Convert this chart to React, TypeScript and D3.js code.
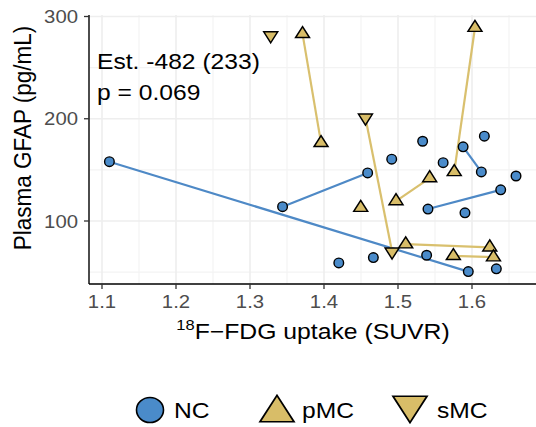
import React from "react";
import * as d3 from "d3";

// ---- data ----
const ncX = [1.11, 1.595, 1.344, 1.459, 1.588, 1.6126, 1.5405, 1.6388, 1.5333, 1.6167, 1.4915, 1.561, 1.6595, 1.5905, 1.5387, 1.6329, 1.4667, 1.42];
const ncY = [158, 50.5, 114, 147, 172.5, 148, 111.7, 130.5, 178, 183, 160.5, 157, 144, 108, 66.5, 53.2, 64.2, 59];
const ncSubject = ["n1", "n1", "n2", "n2", "n3", "n3", "n4", "n4", "n5", "n6", "n7", "n8", "n9", "n10", "n11", "n12", "n13", "n14"];

const pmcX = [1.371, 1.396, 1.604, 1.576, 1.5428, 1.4973, 1.5104, 1.624, 1.5748, 1.629, 1.4496];
const pmcY = [283, 176.4, 289, 148, 142, 119.5, 77.3, 74.3, 65.9, 64.6, 113];
const pmcSubject = ["p1", "p1", "p2", "p2", "p3", "p3", "p4", "p4", "p5", "p5", "p6"];

const smcX = [1.328, 1.456, 1.492];
const smcY = [281.5, 201, 70];
const smcSubject = ["m1", "m2", "m2"];

const xTicks = [1.1, 1.2, 1.3, 1.4, 1.5, 1.6];
const xMinor = [1.15, 1.25, 1.35, 1.45, 1.55, 1.65];
const yTicks = [100, 200, 300];
const yMinor = [50, 150, 250];

const groups = ["NC", "pMC", "sMC"];
const annotation = ["Est. -482 (233)", "p = 0.069"];

// ---- style ----
const BLUE = "#4A8BCA";
const BLUE_LINE = "#4E89C6";
const GOLD = "#D8BD68";
const GOLD_LINE = "#D9C06E";
const FONT = "'Liberation Sans', Arial, Helvetica, sans-serif";
const SX = 1.12;

const W = 536, H = 427;
const panel = { left: 89, right: 536, top: 15, bottom: 284 };

type Pt = { x: number; y: number; s: string; g: string };

function build(xs: number[], ys: number[], ss: string[], g: string): Pt[] {
  return xs.map((x, i) => ({ x, y: ys[i], s: ss[i], g }));
}

function segments(pts: Pt[]) {
  const by = d3.group(pts, (d) => d.s);
  return Array.from(by.values()).filter((a) => a.length > 1);
}

function SText(props: { x: number; y: number; sx?: number; anchor?: string; size: number; fill?: string; children: React.ReactNode }) {
  const { x, y, sx = SX, anchor = "start", size, fill = "#000", children } = props;
  return (
    <text transform={`translate(${x},${y}) scale(${sx},1)`} textAnchor={anchor} fontSize={size} fill={fill} fontFamily={FONT}>
      {children}
    </text>
  );
}

export default function App() {
  const x = d3.scaleLinear().domain([1.1, 1.6]).range([102, 472]);
  const y = d3.scaleLinear().domain([100, 300]).range([221, 16.5]);

  const nc = build(ncX, ncY, ncSubject, "NC");
  const pmc = build(pmcX, pmcY, pmcSubject, "pMC");
  const smc = build(smcX, smcY, smcSubject, "sMC");

  const ncLines = segments(nc);
  const goldLines = segments([...pmc, ...smc]);

  const line = d3.line<Pt>().x((d) => x(d.x)).y((d) => y(d.y));
  const triUp = d3.symbol().type(d3.symbolTriangle).size(70)()!;
  const triUpBig = d3.symbol().type(d3.symbolTriangle).size(400)()!;

  return (
    <svg width={W} height={H} style={{ position: "absolute", left: 0, top: 0, background: "#fff" }}>
      <rect x={0} y={0} width={W} height={H} fill="#fff" />
      {/* grid */}
      <g>
        {xMinor.map((t) => (
          <line key={"xm" + t} x1={x(t)} x2={x(t)} y1={panel.top} y2={panel.bottom} stroke="#F3F3F3" strokeWidth={1.2} />
        ))}
        {yMinor.map((t) => (
          <line key={"ym" + t} x1={panel.left} x2={panel.right} y1={y(t)} y2={y(t)} stroke="#F3F3F3" strokeWidth={1.2} />
        ))}
        {xTicks.map((t) => (
          <line key={"xg" + t} x1={x(t)} x2={x(t)} y1={panel.top} y2={panel.bottom} stroke="#EEEEEE" strokeWidth={1.6} />
        ))}
        {yTicks.map((t) => (
          <line key={"yg" + t} x1={panel.left} x2={panel.right} y1={y(t)} y2={y(t)} stroke="#EEEEEE" strokeWidth={1.6} />
        ))}
      </g>

      {/* axes */}
      <line x1={panel.left} x2={panel.left} y1={panel.top} y2={panel.bottom} stroke="#000" strokeWidth={1.4} />
      <line x1={panel.left} x2={panel.right} y1={panel.bottom} y2={panel.bottom} stroke="#000" strokeWidth={1.4} />
      {yTicks.map((t) => (
        <g key={"yt" + t}>
          <line x1={panel.left - 5} x2={panel.left} y1={y(t)} y2={y(t)} stroke="#333" strokeWidth={1.3} />
          <SText x={78} y={y(t) + 6.5} anchor="end" size={18} sx={1.13} fill="#4D4D4D">{t}</SText>
        </g>
      ))}
      {xTicks.map((t) => (
        <g key={"xt" + t}>
          <line x1={x(t)} x2={x(t)} y1={panel.bottom} y2={panel.bottom + 5} stroke="#333" strokeWidth={1.3} />
          <SText x={x(t)} y={308} anchor="middle" size={18} sx={1.13} fill="#4D4D4D">{d3.format(".1f")(t)}</SText>
        </g>
      ))}

      {/* axis titles */}
      <text transform={`translate(313,339) scale(1.1,1)`} textAnchor="middle" fontFamily={FONT} fontSize={22.5} fill="#000">
        <tspan fontSize={15} dy={-9}>18</tspan>
        <tspan dy={9}>F−FDG uptake (SUVR)</tspan>
      </text>
      <g transform={`translate(31,138) scale(1.1,1) rotate(-90)`}>
        <text textAnchor="middle" fontFamily={FONT} fontSize={22.5} fill="#000">Plasma GFAP (pg/mL)</text>
      </g>

      {/* lines */}
      {ncLines.map((seg, i) => (
        <path key={"nl" + i} d={line(seg)!} fill="none" stroke={BLUE_LINE} strokeWidth={2.2} />
      ))}
      {goldLines.map((seg, i) => (
        <path key={"gl" + i} d={line(seg)!} fill="none" stroke={GOLD_LINE} strokeWidth={2.2} />
      ))}

      {/* points */}
      {nc.map((d, i) => (
        <circle key={"nc" + i} cx={x(d.x)} cy={y(d.y)} r={4.8} fill={BLUE} stroke="#000" strokeWidth={1.4} />
      ))}
      {pmc.map((d, i) => (
        <path key={"pm" + i} d={triUp} transform={`translate(${x(d.x)},${y(d.y)}) scale(1.1,1)`} fill={GOLD} stroke="#000" strokeWidth={1.4} />
      ))}
      {smc.map((d, i) => (
        <path key={"sm" + i} d={triUp} transform={`translate(${x(d.x)},${y(d.y)}) scale(1.1,-1)`} fill={GOLD} stroke="#000" strokeWidth={1.4} />
      ))}

      {/* annotation */}
      <SText x={97} y={69} size={22}>{annotation[0]}</SText>
      <SText x={97} y={100} size={22}>{annotation[1]}</SText>

      {/* legend */}
      <g>
        <ellipse cx={150} cy={410} rx={13.5} ry={12.5} fill={BLUE} stroke="#000" strokeWidth={1.6} />
        <SText x={174} y={418} size={22}>{groups[0]}</SText>
        <path d={triUpBig} transform={`translate(277,413) scale(1.12,1)`} fill={GOLD} stroke="#000" strokeWidth={1.6} />
        <SText x={302} y={418} size={22}>{groups[1]}</SText>
        <path d={triUpBig} transform={`translate(410,405) scale(1.12,-1)`} fill={GOLD} stroke="#000" strokeWidth={1.6} />
        <SText x={437} y={418} size={22}>{groups[2]}</SText>
      </g>
    </svg>
  );
}
